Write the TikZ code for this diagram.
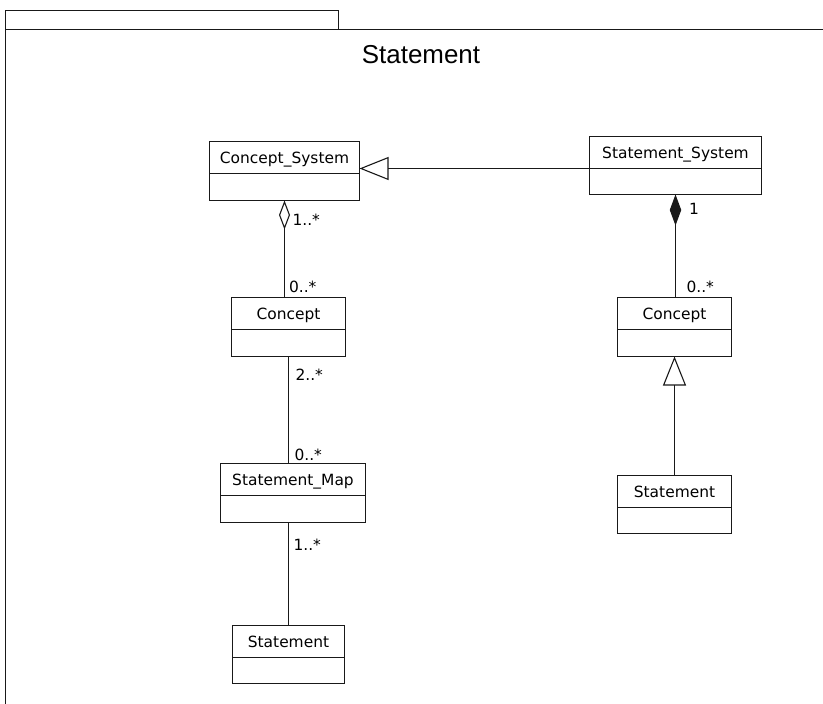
\documentclass[tikz,border=0pt]{standalone}
\usepackage{fontspec}
\setmainfont{DejaVu Sans}
\newfontfamily\titlefont{Liberation Sans}
\usetikzlibrary{arrows.meta}

% A UML class: name compartment (#1) above an empty attribute compartment (#1-a)
\newcommand\umlclass[7]{%
  \node[namebox, minimum width=#4 bp, minimum height=#5 bp] (#1) at (#2,#3) {#7};
  \node[attrbox, minimum width=#4 bp, minimum height=#6 bp] (#1-a) at (#1.south) {};
  \draw[line join=miter] (#1-a.north west) -- (#1-a.south west) -- (#1-a.south east) -- (#1-a.north east);
}

\begin{document}
\begin{tikzpicture}[x=1bp, y=-1bp, line width=1.1bp, draw=black!90,
  namebox/.style={draw, rectangle, inner sep=0pt, outer sep=0pt, anchor=north west,
    font=\fontsize{15.5}{18}\selectfont, text height=11.3bp, text depth=0pt},
  attrbox/.style={rectangle, inner sep=0pt, outer sep=0pt, anchor=north},
  mult/.style={font=\fontsize{15.5}{18}\selectfont, inner sep=0pt, anchor=west},
  gen/.style={-{Triangle[open, length=29bp, width=23bp]}},
  agg/.style={{Diamond[open, length=29bp, width=11bp]}-},
  comp/.style={{Diamond[length=31bp, width=11.5bp]}-},
]
\useasboundingbox (0,0) rectangle (823,704);

% package frame with its tab
\draw (5.5,29.5) rectangle (338.5,10.5);
\draw (5.5,710) -- (5.5,29.5) -- (830,29.5);
\node[font=\titlefont\fontsize{26}{30}\selectfont, anchor=base, inner sep=0pt] (title) at (421,63.3) {Statement};

% classes (edges placed on half units so the outlines stay crisp)
\umlclass{cs}{209.5}{141.5}{150}{32}{27}{Concept\_System}
\umlclass{ss}{589.5}{136.5}{172}{32}{26}{Statement\_System}
\umlclass{cl}{231.5}{297.5}{114}{32}{27}{Concept}
\umlclass{cr}{617.5}{297.5}{114}{32}{27}{Concept}
\umlclass{sm}{220.5}{463.5}{145}{32}{27}{Statement\_Map}
\umlclass{st}{232.5}{625.5}{112}{32}{26}{Statement}
\umlclass{sr}{617.5}{475.5}{114}{32}{26}{Statement}

% relations
\draw[gen] (ss.south west) -- (ss.south west -| cs.east);
\draw[agg] (cs-a.south) -- (cs-a.south |- cl.north);
\draw (cl-a.south) -- (cl-a.south |- sm.north);
\draw (st.north) -- (st.north |- sm-a.south);
\draw[comp] (ss-a.south) -- (ss-a.south |- cr.north);
\draw[gen] (sr.north) -- (sr.north |- cr-a.south);

% multiplicities
\node[mult] (m1) at (292,220) {1..*};
\node[mult] (m2) at (288.5,286.7) {0..*};
\node[mult] (m3) at (295,375) {2..*};
\node[mult] (m4) at (294,455) {0..*};
\node[mult] (m5) at (293,545) {1..*};
\node[mult] (m6) at (688.5,209) {1};
\node[mult] (m7) at (686,286.7) {0..*};
\end{tikzpicture}
\end{document}
